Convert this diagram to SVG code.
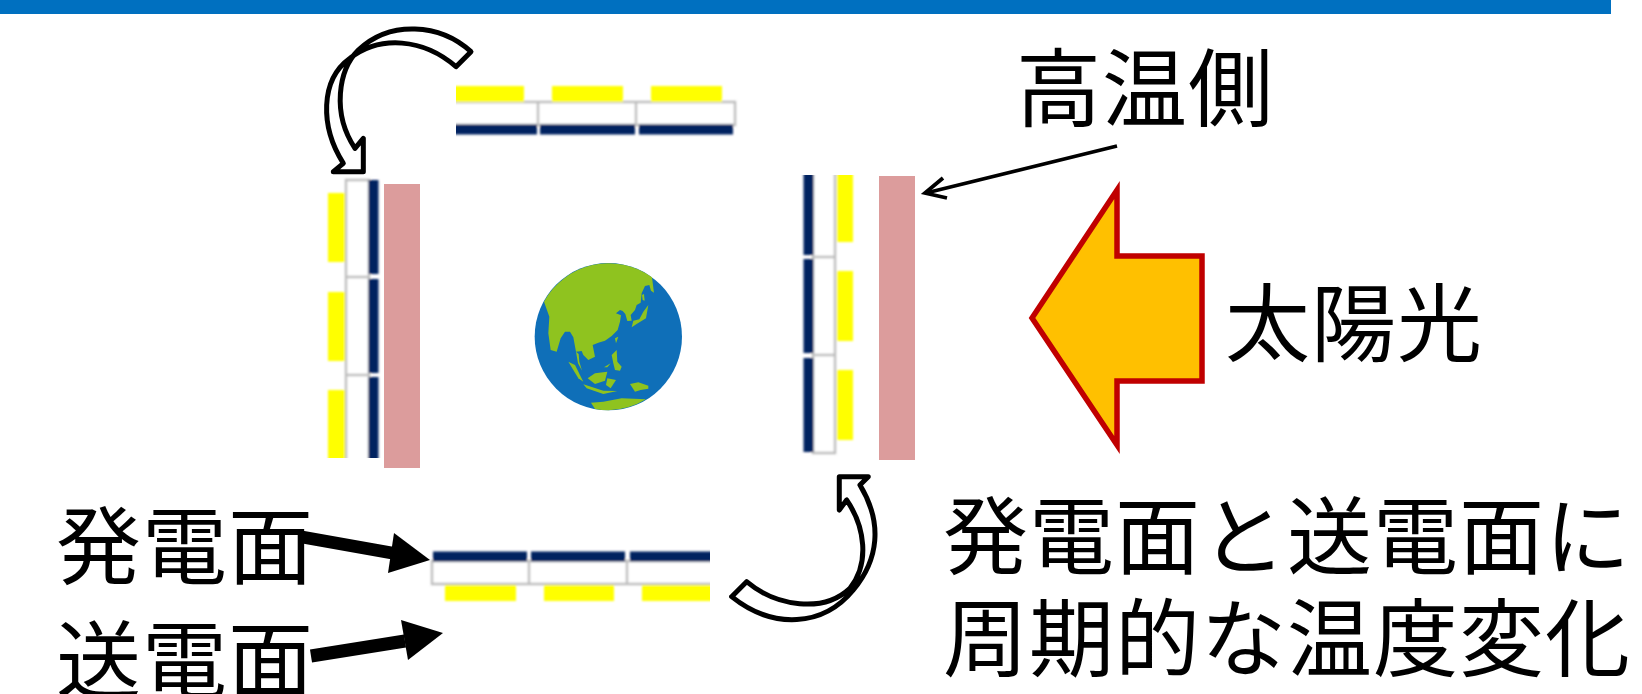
<svg xmlns="http://www.w3.org/2000/svg" width="1642" height="694" viewBox="0 0 1642 694">
  <defs>
    <filter id="soft" x="-5%" y="-5%" width="110%" height="110%"><feGaussianBlur stdDeviation="0.9"/></filter>
    <clipPath id="cropTop"><rect x="456" y="80" width="290" height="60"/></clipPath>
    <clipPath id="cropLeft"><rect x="320" y="170" width="70" height="288"/></clipPath>
    <clipPath id="cropRight"><rect x="795" y="175" width="70" height="290"/></clipPath>
    <clipPath id="cropBottom"><rect x="425" y="545" width="285" height="65"/></clipPath>
  </defs>
  <style>
    .t { font-family: "Noto Sans CJK JP", "Liberation Sans", sans-serif; font-size: 85px; letter-spacing: 1px; fill: #000; }
    .yellow { fill: #FFFF00; }
    .navy { fill: #002060; }
    .body { fill: #fff; stroke: #bdbdbd; stroke-width: 2.4; }
    .hot { fill: #DC9C9C; }
    .swirl { fill: #fff; stroke: #000; stroke-width: 15; stroke-linejoin: round; }
    .land { fill: #8FC31F; }
  </style>

  <rect id="top-band" x="0" y="0" width="1611" height="14" fill="#0070C0"/>

  <g id="panel-top" clip-path="url(#cropTop)">
    <g filter="url(#soft)">
      <path class="body" d="M440,102H538V125H440ZM538,102H636V125H538ZM636,102H735V125H636Z"/>
      <rect class="yellow" x="445" y="86" width="79" height="16"/>
      <rect class="yellow" x="552" y="86" width="71" height="16"/>
      <rect class="yellow" x="651" y="86" width="71" height="16"/>
      <rect class="navy" x="440" y="124.500" width="97" height="10"/>
      <rect class="navy" x="540" y="124.500" width="95" height="10"/>
      <rect class="navy" x="639" y="124.500" width="94" height="10"/>
    </g>
  </g>

  <g id="panel-left" clip-path="url(#cropLeft)">
    <g filter="url(#soft)">
      <path class="body" d="M346,180H369V277H346ZM346,277H369V375H346ZM346,375H369V475H346Z"/>
      <rect class="yellow" x="328" y="193" width="17" height="69"/>
      <rect class="yellow" x="328" y="292" width="17" height="69"/>
      <rect class="yellow" x="328" y="390" width="17" height="80"/>
      <rect class="navy" x="368.500" y="180" width="10" height="94"/>
      <rect class="navy" x="368.500" y="279" width="10" height="94"/>
      <rect class="navy" x="368.500" y="377" width="10" height="95"/>
    </g>
  </g>
  <rect id="hot-left" class="hot" x="384" y="184" width="36" height="284"/>

  <g id="panel-right" clip-path="url(#cropRight)">
    <g filter="url(#soft)">
      <path class="body" d="M813,160H835V257H813ZM813,257H835V355H813ZM813,355H835V453H813Z"/>
      <rect class="yellow" x="837" y="160" width="16" height="82"/>
      <rect class="yellow" x="837" y="271" width="16" height="70"/>
      <rect class="yellow" x="837" y="370" width="16" height="70"/>
      <rect class="navy" x="803.500" y="160" width="10" height="95"/>
      <rect class="navy" x="803.500" y="259" width="10" height="94"/>
      <rect class="navy" x="803.500" y="358" width="10" height="94"/>
    </g>
  </g>
  <rect id="hot-right" class="hot" x="879" y="176" width="36" height="284"/>

  <g id="panel-bottom" clip-path="url(#cropBottom)">
    <g filter="url(#soft)">
      <path class="body" d="M432,561H529V584H432ZM529,561H627V584H529ZM627,561H725V584H627Z"/>
      <rect class="yellow" x="445" y="585" width="71" height="16"/>
      <rect class="yellow" x="544" y="585" width="70" height="16"/>
      <rect class="yellow" x="642" y="585" width="80" height="16"/>
      <rect class="navy" x="433" y="551.500" width="94" height="10"/>
      <rect class="navy" x="531" y="551.500" width="94" height="10"/>
      <rect class="navy" x="630" y="551.500" width="95" height="10"/>
    </g>
  </g>

  <!-- Earth, outlined on a 3:1 grid -->
  <g id="earth" transform="translate(520,250) scale(0.3333)">
    <circle cx="265" cy="260" r="221" fill="#0F6FB8"/>
    <path class="land" d="M72,155 A221,221 0 0 1 396,82 L402,128 L393,122 L388,105 L375,108 L365,130 L362,158 L350,165 L345,180 L332,195 L335,212 L322,213 L316,192 L308,183 L300,180 L288,190 L303,196 L300,215 L293,240 L275,258 L255,272 L235,278 L218,285 L225,320 L205,330 L190,315 L185,303 L168,305 L160,262 L150,245 L135,245 L122,265 L110,305 L92,300 L85,250 L88,200 Z"/>
    <path class="land" d="M335,232 L340,212 L358,208 L370,185 L385,165 L378,205 L350,222 Z"/>
    <path class="land" d="M366,135 L372,132 L374,152 L368,150 Z"/>
    <path class="land" d="M285,265 L295,260 L288,280 Z"/>
    <path class="land" d="M145,335 L165,345 L190,395 L175,385 Z"/>
    <path class="land" d="M168,305 L176,312 L178,335 L186,362 L174,340 Z"/>
    <path class="land" d="M203,385 L225,370 L262,365 L255,392 L225,402 Z"/>
    <path class="land" d="M262,385 L288,390 L272,415 L258,405 Z"/>
    <path class="land" d="M190,403 L250,422 L292,423 L250,432 L200,415 Z"/>
    <path class="land" d="M330,402 L355,397 L385,407 L385,416 L362,420 L345,425 Z"/>
    <path class="land" d="M275,315 L290,300 L292,335 L305,350 L300,362 L285,360 L280,340 Z"/>
    <path class="land" d="M252,352 L272,340 L262,352 Z"/>
    <path class="land" d="M213,458 L250,455 L305,445 L378,448 A221,221 0 0 1 225,477 Z"/>
  </g>

  <g id="sun-arrow">
    <path d="M1032,318 L1117,190 V256 H1202 V381 H1117 V445 Z" fill="#FFC000" stroke="#C00000" stroke-width="5.5"/>
  </g>

  <g id="connectors">
    <path class="swirl" transform="translate(300,0) scale(0.3333)" d="M513,155 C420,70 270,60 175,150 C115,210 95,340 165,445 L190,415 L190,515 L100,515 L130,490 C60,380 60,240 150,175 C240,105 370,115 468,200 Z"/>
    <path class="swirl" transform="translate(400,460) scale(0.3333)" d="M1040,365 C1130,440 1270,460 1350,385 C1410,310 1395,200 1340,120 L1318,150 L1318,50 L1405,50 L1380,75 C1450,190 1435,300 1360,390 C1270,500 1120,510 995,410 Z"/>
    <path d="M1117,146 L926,193" fill="none" stroke="#000" stroke-width="3.6"/>
    <path d="M943,178 L925,193 L947,198" fill="none" stroke="#000" stroke-width="3.8"/>
    <path d="M302,537 L392,553" fill="none" stroke="#000" stroke-width="12.5"/>
    <path d="M430,560 L394,533 L388,573 Z" fill="#000"/>
    <path d="M311,656 L405,641" fill="none" stroke="#000" stroke-width="13"/>
    <path d="M443,633 L401,620 L408,660 Z" fill="#000"/>
  </g>

  <g id="labels">
    <text class="t" x="1016" y="120">高温側</text>
    <text class="t" x="1225" y="355">太陽光</text>
    <text class="t" x="56" y="578">発電面</text>
    <text class="t" x="56" y="692">送電面</text>
    <text class="t" x="943" y="568">発電面と送電面に</text>
    <text class="t" x="943" y="670">周期的な温度変化</text>
  </g>
</svg>
